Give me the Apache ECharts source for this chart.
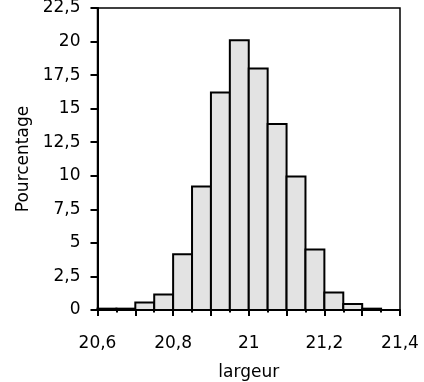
<!DOCTYPE html>
<html>
<head>
<meta charset="utf-8">
<script src="https://cdn.jsdelivr.net/npm/echarts@6/dist/echarts.min.js"></script>
<style>
html,body{margin:0;padding:0;background:#fff;}
#c{width:424px;height:382px;}
</style>
</head>
<body>
<div id="c"></div>
<script>
// Bin start values (width 0.05) and percentages
var binStarts = [20.60, 20.65, 20.70, 20.75, 20.80, 20.85, 20.90, 20.95, 21.00, 21.05, 21.10, 21.15, 21.20, 21.25, 21.30, 21.35];
var binWidth = 0.05;
var percentages = [0.1, 0.1, 0.55, 1.15, 4.15, 9.2, 16.2, 20.1, 18.0, 13.85, 9.95, 4.5, 1.3, 0.45, 0.1, 0];
var xTickLabels = ['20,6', '20,8', '21', '21,2', '21,4'];
var yTickLabels = ['0', '2,5', '5', '7,5', '10', '12,5', '15', '17,5', '20', '22,5'];

var data = binStarts.map(function (s, i) { return [s, s + binWidth, percentages[i]]; })
  .filter(function (d) { return d[2] > 0; });

var FONT = '"DejaVu Sans", sans-serif';
var FS = 17;
var chart = echarts.init(document.getElementById('c'), null, {renderer: 'canvas'});

function fmtX(v) {
  var r = Math.round(v * 10) / 10;
  var idx = Math.round((r - 20.6) / 0.2 * 1000) / 1000;
  if (Math.abs(idx - Math.round(idx)) > 1e-6) return '';
  return xTickLabels[Math.round(idx)] || '';
}
function fmtY(v) {
  var idx = Math.round(v / 2.5);
  return yTickLabels[idx] || '';
}

chart.setOption({
  animation: false,
  backgroundColor: '#fff',
  grid: {left: 97.5, right: 24, top: 8, bottom: 72, containLabel: false, outerBoundsMode: 'none', show: true, borderColor: '#000', borderWidth: 1.5, backgroundColor: 'transparent'},
  xAxis: {
    type: 'value', min: 20.6, max: 21.4, interval: 0.1,
    name: 'largeur', nameLocation: 'middle', nameGap: 54,
    nameTextStyle: {fontFamily: FONT, fontSize: FS, color: '#000'},
    axisLine: {show: true, onZero: false, lineStyle: {color: '#000', width: 2}},
    axisTick: {show: true, inside: false, length: 6, lineStyle: {color: '#000', width: 2}},
    minorTick: {show: true, splitNumber: 2, length: 2.5, lineStyle: {color: '#000', width: 2}},
    splitLine: {show: false},
    axisLabel: {margin: 25, fontFamily: FONT, fontSize: FS, color: '#000', formatter: fmtX, showMinLabel: true, showMaxLabel: true, hideOverlap: false}
  },
  yAxis: {
    type: 'value', min: 0, max: 22.5, interval: 2.5,
    name: 'Pourcentage', nameLocation: 'middle', nameGap: 65, nameRotate: 90,
    nameTextStyle: {fontFamily: FONT, fontSize: FS, color: '#000'},
    axisLine: {show: true, lineStyle: {color: '#000', width: 2}},
    axisTick: {show: true, inside: false, length: 7, lineStyle: {color: '#000', width: 2}},
    splitLine: {show: false},
    axisLabel: {margin: 17, fontFamily: FONT, fontSize: FS, color: '#000', formatter: fmtY}
  },
  series: [{
    type: 'custom',
    data: data,
    encode: {x: [0, 1], y: 2},
    renderItem: function (params, api) {
      var p0 = api.coord([api.value(0), 0]);
      var p1 = api.coord([api.value(1), api.value(2)]);
      return {
        type: 'rect',
        shape: {x: p0[0], y: p1[1], width: p1[0] - p0[0], height: p0[1] - p1[1]},
        style: {fill: '#e3e3e3', stroke: '#000', lineWidth: 2}
      };
    }
  }]
});
</script>
</body>
</html>
